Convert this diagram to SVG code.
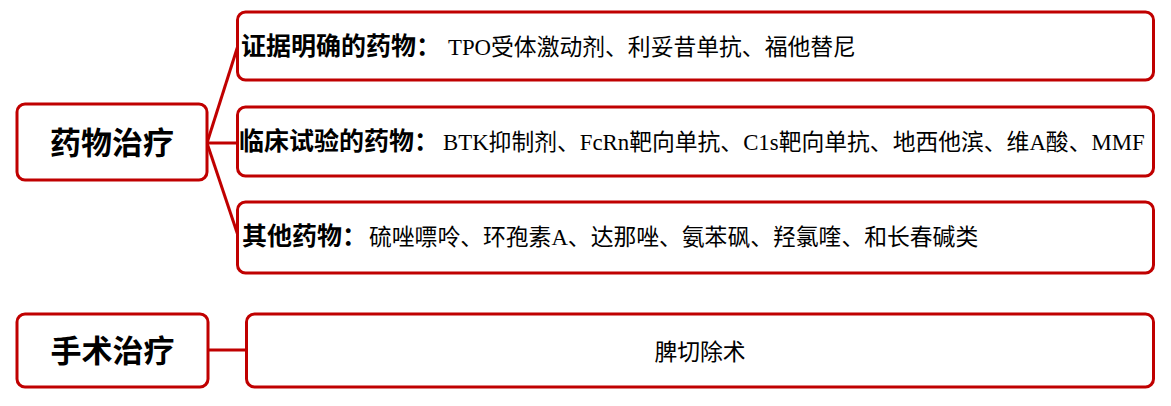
<svg xmlns="http://www.w3.org/2000/svg" width="1171" height="406" viewBox="0 0 1171 406">
<style>
.box{fill:#fff;stroke:#C00000;stroke-width:3}
.conn{fill:none;stroke:#C00000;stroke-width:3}
.main{font-family:"Noto Sans CJK SC","Noto Sans",sans-serif;font-weight:bold;font-size:31px;fill:#000}
.head{font-family:"Noto Sans CJK SC","Noto Sans",sans-serif;font-weight:bold;font-size:25px;fill:#000}
.body{font-family:"Liberation Serif","Noto Sans CJK SC",serif;font-weight:normal;font-size:22.8px;fill:#000}
</style>
<rect width="1171" height="406" fill="#fff"/>
<g id="connectors">
<line class="conn" x1="207" y1="143" x2="237.5" y2="47"/>
<line class="conn" x1="207" y1="143" x2="237.5" y2="143"/>
<line class="conn" x1="207" y1="143" x2="237.5" y2="234"/>
<line class="conn" x1="208" y1="350" x2="246.5" y2="350"/>
</g>
<g id="drug">
<rect class="box" x="17" y="104" width="190" height="76" rx="8"/>
<text class="main" x="112" y="154" text-anchor="middle">药物治疗</text>
</g>
<g id="evidence">
<rect class="box" x="237.5" y="12" width="916" height="68" rx="8"/>
<text x="241" y="55"><tspan class="head">证据明确的药物：</tspan><tspan class="body" x="448">TPO受体激动剂、利妥昔单抗、福他替尼</tspan></text>
</g>
<g id="trial">
<rect class="box" x="237.5" y="107" width="916" height="69" rx="8"/>
<text x="239" y="150"><tspan class="head">临床试验的药物：</tspan><tspan class="body" x="443">BTK抑制剂、FcRn靶向单抗、C1s靶向单抗、地西他滨、维A酸、MMF</tspan></text>
</g>
<g id="other">
<rect class="box" x="237.5" y="202" width="916" height="71" rx="8"/>
<text x="242" y="245"><tspan class="head">其他药物：</tspan><tspan class="body" x="369">硫唑嘌呤、环孢素A、达那唑、氨苯砜、羟氯喹、和长春碱类</tspan></text>
</g>
<g id="surgery">
<rect class="box" x="17" y="314" width="191" height="73" rx="8"/>
<text class="main" x="112.5" y="362" text-anchor="middle">手术治疗</text>
</g>
<g id="splenectomy">
<rect class="box" x="246.5" y="314" width="907" height="73" rx="8"/>
<text class="body" x="700" y="360" text-anchor="middle">脾切除术</text>
</g>
</svg>
